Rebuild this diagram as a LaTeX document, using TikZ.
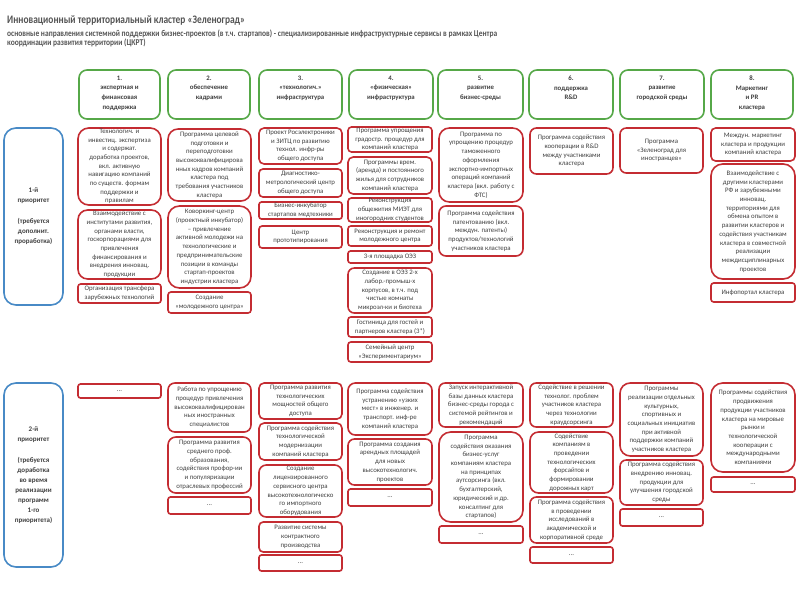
\documentclass[tikz,border=0pt]{standalone}
\usepackage{fontspec}
\usepackage{graphicx}
\setmainfont{Carlito}
\definecolor{rbcol}{RGB}{196,44,50}
\definecolor{gbcol}{RGB}{86,168,72}
\definecolor{bbcol}{RGB}{72,138,198}
\definecolor{txtcol}{RGB}{64,64,64}
\definecolor{ttlcol}{RGB}{85,85,85}
\tikzset{
  redbox/.style={draw=rbcol, line width=1.6pt, fill=white, inner sep=0pt},
  greenbox/.style={draw=gbcol, line width=1.6pt, fill=white, inner sep=0pt},
  bluebox/.style={draw=bbcol, line width=1.6pt, fill=white, inner sep=0pt},
  boxtxt/.style={text=txtcol, align=center, inner sep=0pt, font=\fontsize{6.8}{8.7}\selectfont},
  headtxt/.style={text=txtcol, align=center, inner sep=0pt, font=\bfseries\fontsize{6.8}{9.7}\selectfont},
  prtxt/.style={text=txtcol, align=center, inner sep=0pt, font=\bfseries\fontsize{7}{10}\selectfont},
}
% style, name, x1, y1, x2, y2, text
\newcommand{\mybox}[7]{%
  \pgfmathsetmacro\ww{#5-#3}%
  \pgfmathsetmacro\hh{#6-#4}%
  \pgfmathsetmacro\rr{max(2.5,0.14*min(\ww,\hh))}%
  \node[#1, minimum width=\ww pt, minimum height=\hh pt, rounded corners=\rr pt] (#2) at ({(#3+#5)/2},{(#4+#6)/2}) {};
  \node[boxtxt] (#2t) at (#2.center) {#7};}
% header: name, x1, x2, text
\newcommand{\myhead}[4]{%
  \pgfmathsetmacro\ww{#3-#2}%
  \node[greenbox, minimum width=\ww pt, minimum height=49pt, rounded corners=8pt] (#1) at ({(#2+#3)/2},94.5) {};
  \node[headtxt, anchor=north] (#1t) at ([yshift=-6.3pt]#1.north) {#4};}
\begin{document}
\begin{tikzpicture}[x=1pt,y=-1pt]
\useasboundingbox (0,0) rectangle (800,600);
\fill[white] (0,0) rectangle (800,600);

% title
\node[anchor=west, inner sep=0pt, text=ttlcol] (title) at (7,21) {\resizebox{238pt}{!}{\scalebox{0.82}[1]{\bfseries\fontsize{10}{12}\selectfont Инновационный территориальный кластер «Зеленоград»}}};
\node[anchor=north west, inner sep=0pt, text=ttlcol] (subtitle) at (7,29.5) {\resizebox{490pt}{!}{\scalebox{0.84}[1]{\bfseries\fontsize{7.5}{7.9}\selectfont\begin{tabular}{@{}l@{}}основные направления системной поддержки бизнес-проектов (в т.ч. стартапов) - специализированные инфраструктурные сервисы в рамках Центра\\координации развития территории (ЦКРТ)\end{tabular}}}};

% headers
\myhead{h1}{79}{160}{1.\\экспертная и\\финансовая\\поддержка}
\myhead{h2}{168}{250}{2.\\обеспечение\\кадрами}
\myhead{h3}{259}{342}{3.\\«технологич.»\\инфраструктура}
\myhead{h4}{349}{433}{4.\\«физическая»\\инфраструктура}
\myhead{h5}{438}{523}{5.\\развитие\\бизнес-среды}
\myhead{h6}{529}{613}{6.\\поддержка\\R\&D}
\myhead{h7}{620}{704}{7.\\развитие\\городской среды}
\myhead{h8}{711}{793}{8.\\Маркетинг\\и PR\\кластера}

% priority labels
\node[bluebox, minimum width=59pt, minimum height=177pt, rounded corners=12pt] (p1) at (33.5,216.5) {};
\node[prtxt] (p1t) at (p1.center) {1-й\\приоритет\\[11pt](требуется\\дополнит.\\проработка)};
\node[bluebox, minimum width=59pt, minimum height=184pt, rounded corners=12pt] (p2) at (33.5,475) {};
\node[prtxt] (p2t) at (p2.center) {2-й\\приоритет\\[11pt](требуется\\доработка\\во время\\реализации\\программ\\1-го\\приоритета)};

% ---- first priority
\mybox{redbox}{c1a}{78}{128}{161}{205}{Технологич. и\\инвестиц. экспертиза\\и содержат.\\доработка проектов,\\вкл. активную\\навигацию компаний\\по существ. формам\\поддержки и\\правилам}
\mybox{redbox}{c1b}{78}{210}{161}{279}{Взаимодействие с\\институтами развития,\\органами власти,\\госкорпорациями для\\привлечения\\финансирования и\\внедрения инновац.\\продукции}
\mybox{redbox}{c1c}{78}{284}{161}{303}{Организация трансфера\\зарубежных технологий}

\mybox{redbox}{c2a}{168}{129}{251}{201}{Программа целевой\\подготовки и\\переподготовки\\высококвалифицирова\\нных кадров компаний\\кластера под\\требования участников\\кластера}
\mybox{redbox}{c2b}{168}{206}{251}{288}{Коворкинг-центр\\(проектный инкубатор)\\– привлечение\\активной молодежи на\\технологические и\\предпринимательские\\позиции в команды\\стартап-проектов\\индустрии кластера}
\mybox{redbox}{c2c}{168}{292}{251}{313}{Создание\\«молодежного центра»}

\mybox{redbox}{c3a}{259}{128}{342}{164}{Проект Росэлектроники\\и ЗИТЦ по развитию\\технол. инфр-ры\\общего доступа}
\mybox{redbox}{c3b}{259}{169}{342}{197}{Диагностико-\\метрологический центр\\общего доступа}
\mybox{redbox}{c3c}{259}{202}{342}{219}{Бизнес-инкубатор\\стартапов медтехники}
\mybox{redbox}{c3d}{259}{226}{342}{248}{Центр\\прототипирования}

\mybox{redbox}{c4a}{348}{127}{432}{152}{Программа упрощения\\градостр. процедур для\\компаний кластера}
\mybox{redbox}{c4b}{348}{157}{432}{194}{Программы врем.\\(аренда) и постоянного\\жилья для сотрудников\\компаний кластера}
\mybox{redbox}{c4c}{348}{198}{432}{222}{Реконструкция\\общежития МИЭТ для\\иногородних студентов}
\mybox{redbox}{c4d}{348}{226}{432}{246}{Реконструкция и ремонт\\молодежного центра}
\mybox{redbox}{c4e}{348}{251}{432}{263}{3-я площадка ОЭЗ}
\mybox{redbox}{c4f}{348}{268}{432}{313}{Создание в ОЭЗ 2-х\\лабор.-промыш-х\\корпусов, в т.ч. под\\чистые комнаты\\микроэл-ки и биотеха}
\mybox{redbox}{c4g}{348}{317}{432}{337}{Гостиница для гостей и\\партнеров кластера (3*)}
\mybox{redbox}{c4h}{348}{342}{432}{362}{Семейный центр\\«Экспериментариум»}

\mybox{redbox}{c5a}{439}{128}{523}{202}{Программа по\\упрощению процедур\\таможенного\\оформления\\экспортно-импортных\\операций компаний\\кластера (вкл. работу с\\ФТС)}
\mybox{redbox}{c5b}{439}{206}{523}{256}{Программа содействия\\патентованию (вкл.\\междун. патенты)\\продуктов/технологий\\участников кластера}

\mybox{redbox}{c6a}{530}{128}{613}{174}{Программа содействия\\кооперации в R\&D\\между участниками\\кластера}

\mybox{redbox}{c7a}{620}{128}{703}{173}{Программа\\«Зеленоград для\\иностранцев»}

\mybox{redbox}{c8a}{711}{128}{795}{161}{Междун. маркетинг\\кластера и продукции\\компаний кластера}
\mybox{redbox}{c8b}{711}{164}{795}{279}{Взаимодействие с\\другими кластерами\\РФ и зарубежными\\инновац.\\территориями для\\обмена опытом в\\развитии кластеров и\\содействия участникам\\кластера в совместной\\реализации\\междисциплинарных\\проектов}
\mybox{redbox}{c8c}{711}{283}{795}{302}{Инфопортал кластера}

% ---- second priority
\mybox{redbox}{d1a}{78}{384}{161}{398}{...}

\mybox{redbox}{d2a}{168}{383}{251}{432}{Работа по упрощению\\процедур привлечения\\высококвалифицирован\\ных иностранных\\специалистов}
\mybox{redbox}{d2b}{168}{437}{251}{493}{Программа развития\\среднего проф.\\образования,\\содействия профор-ии\\и популяризации\\отраслевых профессий}
\mybox{redbox}{d2c}{168}{497}{251}{514}{...}

\mybox{redbox}{d3a}{259}{383}{342}{419}{Программа развития\\технологических\\мощностей общего\\доступа}
\mybox{redbox}{d3b}{259}{423}{342}{460}{Программа содействия\\технологической\\модернизации\\компаний кластера}
\mybox{redbox}{d3c}{259}{465}{342}{517}{Создание\\лицензированного\\сервисного центра\\высокотехнологическо\\го импортного\\оборудования}
\mybox{redbox}{d3d}{259}{522}{342}{552}{Развитие системы\\контрактного\\производства}
\mybox{redbox}{d3e}{259}{555}{342}{571}{...}

\mybox{redbox}{d4a}{348}{383}{432}{435}{Программа содействия\\устранению «узких\\мест» в инженер. и\\транспорт. инф-ре\\компаний кластера}
\mybox{redbox}{d4b}{348}{439}{432}{485}{Программа создания\\арендных площадей\\для новых\\высокотехнологич.\\проектов}
\mybox{redbox}{d4c}{348}{489}{432}{506}{...}

\mybox{redbox}{d5a}{439}{383}{523}{427}{Запуск интерактивной\\базы данных кластера\\бизнес-среды города с\\системой рейтингов и\\рекомендаций}
\mybox{redbox}{d5b}{439}{432}{523}{522}{Программа\\содействия оказания\\бизнес-услуг\\компаниям кластера\\на принципах\\аутсорсинга (вкл.\\бухгалтерский,\\юридический и др.\\консалтинг для\\стартапов)}
\mybox{redbox}{d5c}{439}{526}{523}{543}{...}

\mybox{redbox}{d6a}{530}{383}{613}{427}{Содействие в решении\\технолог. проблем\\участников кластера\\через технологии\\краудсорсинга}
\mybox{redbox}{d6b}{530}{432}{613}{493}{Содействие\\компаниям в\\проведении\\технологических\\форсайтов и\\формировании\\дорожных карт}
\mybox{redbox}{d6c}{530}{497}{613}{543}{Программа содействия\\в проведении\\исследований в\\академической и\\корпоративной среде}
\mybox{redbox}{d6d}{530}{547}{613}{563}{...}

\mybox{redbox}{d7a}{620}{383}{703}{456}{Программы\\реализации отдельных\\культурных,\\спортивных и\\социальных инициатив\\при активной\\поддержки компаний\\участников кластера}
\mybox{redbox}{d7b}{620}{460}{703}{505}{Программа содействия\\внедрению инновац.\\продукции для\\улучшения городской\\среды}
\mybox{redbox}{d7c}{620}{509}{703}{526}{...}

\mybox{redbox}{d8a}{711}{383}{795}{472}{Программы содействия\\продвижения\\продукции участников\\кластера на мировые\\рынки и\\технологической\\кооперации с\\международными\\компаниями}
\mybox{redbox}{d8b}{711}{477}{795}{492}{...}
\end{tikzpicture}
\end{document}
